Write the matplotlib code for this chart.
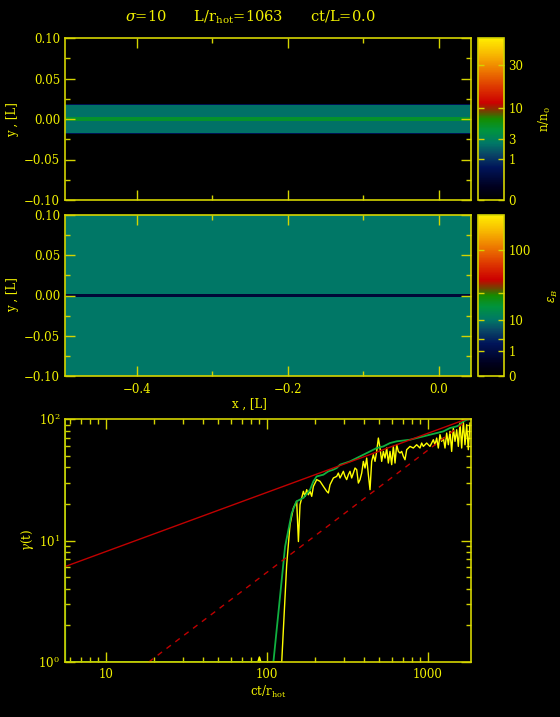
import numpy as np
import matplotlib
matplotlib.use('Agg')
import matplotlib.pyplot as plt
from matplotlib.colors import LinearSegmentedColormap, PowerNorm
from matplotlib.ticker import FixedLocator, NullFormatter

# ---- data ----
# top panel: density profile across the sheet (y edges, n/n0 in each layer)
dens_y = [-0.1, -0.0185, -0.0172, -0.0025, 0.0025, 0.0172, 0.0185, 0.1]
dens_n = [0.0, 0.4, 2.3, 5.2, 2.3, 0.4, 0.0]
# middle panel: energy profile
eps_y = [-0.1, -0.0013, 0.0013, 0.1]
eps_v = [10.0, 0.6, 10.0]
x_edges = [-0.495, 0.043]

dens_ticks = [0, 1, 3, 10, 30]
eps_ticks = [0, 1, 3, 10, 30, 100]
eps_labels = ['0', '1', '', '10', '', '100']

# bottom panel: gamma(t)
yel_t = [5.58, 5.6, 88, 90, 92, 123.9, 133.0, 139.5, 146.4, 153.5, 157.3, 161.0, 164.9, 168.9, 172.9,
         177.1, 181.4, 185.8, 190.3, 194.9, 204.4, 214.4, 224.8, 235.8, 241.5, 247.3,
         253.3, 259.4, 272.0, 278.6, 285.3, 292.2, 299.2, 306.4, 313.8, 321.4, 329.1,
         337.1, 345.2, 353.6, 362.1, 370.9, 379.8, 389.0, 398.3, 408.0, 417.8, 427.9,
         438.2, 448.7, 459.5, 470.7, 482.0, 493.7, 505.5, 517.8, 530.2, 543.1, 556.2,
         569.6, 583.3, 597.4, 611.7, 626.6, 641.6, 657.2, 673.0, 689.2, 705.9, 722.8,
         740.3, 776.4, 814.3, 854.0, 895.7, 917.2, 939.6, 985.4, 1033, 1084, 1110,
         1137, 1164, 1192, 1221, 1251, 1281, 1312, 1344, 1376, 1409, 1443, 1478, 1514,
         1550, 1588, 1626, 1665, 1705, 1746, 1788, 1831]
yel_g = [100, 1.0, 1.0, 1.1, 1.0, 1.0, 6.3, 13.5, 18.5, 21.0, 9.8, 19.7, 22.4, 25.4, 23.1,
         26.2, 23.8, 25.4, 23.1, 27.9, 31.7, 30.7, 27.9, 25.4, 24.6, 28.8,
         30.7, 32.7, 33.7, 35.9, 32.7, 34.8, 37.1, 33.7, 31.7, 34.8, 37.1,
         32.7, 35.9, 39.5, 38.3, 29.7, 31.7, 35.9, 44.8, 39.5, 47.7, 34.8,
         26.2, 44.8, 50.8, 44.8, 54.1, 69.7, 57.7, 44.8, 54.1, 47.7, 57.7,
         43.4, 54.1, 42.1, 59.5, 43.4, 61.4, 54.1, 52.5, 54.1, 49.3, 46.2,
         55.9, 59.5, 57.7, 61.4, 57.7, 63.4, 59.5, 63.4, 59.5, 67.5, 61.4,
         69.7, 57.7, 74.3, 65.5, 69.7, 57.7, 76.6, 61.4, 79.1, 54.1, 84.3, 65.5, 81.6,
         59.5, 92.6, 57.7, 95.6, 61.4, 89.8, 55.9, 92.6]

grn_t = [5.58, 5.6, 110, 118, 130, 143, 153, 168.9, 185.8, 194.9, 204.4, 224.8, 241.5,
         259.4, 272.0, 285.3, 306.4, 329.1, 362.1, 398.3, 438.2, 482.0, 530.2, 583.3,
         641.6, 705.9, 776.4, 854.0, 939.6, 1033, 1137, 1251, 1376, 1514, 1588, 1665,
         1746, 1831]
grn_g = [100, 1.0, 1.0, 2.5, 8.9, 16.8, 21.0, 22.4, 26.2, 30.7, 33.7, 34.8, 37.1,
         38.3, 39.5, 42.1, 43.4, 44.8, 47.7, 50.8, 54.1, 57.7, 59.5, 63.4,
         65.5, 66.5, 67.5, 69.7, 71.9, 74.3, 76.6, 79.1, 84.3, 87.0, 89.8, 95.6,
         98.5, 100]

red_t = [5.58, 1858]
red_g = [6.1, 103]
dash_t = [18.5, 1858]
dash_g = [1.0, 103]

# ---- style ----
YEL = '#f2f200'
FRAME = '#d4d400'
plt.rcParams['font.family'] = ['DejaVu Serif']
plt.rcParams['font.size'] = 8.5
plt.rcParams['mathtext.fontset'] = 'dejavuserif'

cmap = LinearSegmentedColormap.from_list('idl', [
    (0.00, (0, 0, 0)),
    (0.08, (0, 0, 0.12)),
    (0.20, (0, 0.08, 0.35)),
    (0.28, (0.04, 0.27, 0.40)),
    (0.35, (0, 0.47, 0.40)),
    (0.43, (0, 0.58, 0.24)),
    (0.50, (0.08, 0.55, 0)),
    (0.55, (0.47, 0.24, 0)),
    (0.60, (0.80, 0, 0)),
    (0.70, (0.87, 0.22, 0)),
    (0.80, (0.93, 0.47, 0)),
    (0.90, (0.97, 0.72, 0)),
    (1.00, (1.0, 0.93, 0)),
])

fig = plt.figure(figsize=(5.6, 7.17), dpi=100, facecolor='black')
W, H = 560.0, 717.0


def box(l, t, r, b):
    return [l / W, 1 - b / H, (r - l) / W, (b - t) / H]


def style(ax):
    ax.set_facecolor('black')
    for s in ax.spines.values():
        s.set_color(FRAME)
        s.set_linewidth(1.2)
    ax.tick_params(which='both', direction='in', colors=FRAME, labelcolor=YEL,
                   top=True, right=True, bottom=True, left=True)
    ax.tick_params(which='major', length=7, width=1)
    ax.tick_params(which='minor', length=3.5, width=1)


ax1 = fig.add_axes(box(65, 38, 471, 200))
ax2 = fig.add_axes(box(65, 215, 471, 376))
cax1 = fig.add_axes(box(478, 38, 504, 200))
cax2 = fig.add_axes(box(478, 215, 504, 376))
ax3 = fig.add_axes(box(65, 419, 471, 662))

norm1 = PowerNorm(0.35, vmin=0, vmax=50)
norm2 = PowerNorm(0.35, vmin=0, vmax=200)
m1 = ax1.pcolormesh(x_edges, dens_y, np.array(dens_n)[:, None], cmap=cmap, norm=norm1)
m2 = ax2.pcolormesh(x_edges, eps_y, np.array(eps_v)[:, None], cmap=cmap, norm=norm2)

for ax in (ax1, ax2):
    style(ax)
    ax.set_xlim(x_edges)
    ax.set_ylim(-0.1, 0.1)
    ax.set_yticks([-0.10, -0.05, 0.0, 0.05, 0.10])
    ax.set_yticklabels(['\u22120.10', '\u22120.05', '0.00', '0.05', '0.10'])
    ax.yaxis.set_minor_locator(FixedLocator([-0.075, -0.025, 0.025, 0.075]))
    ax.set_xticks([-0.4, -0.2, 0.0])
    ax.xaxis.set_minor_locator(FixedLocator([-0.3, -0.1]))
ax1.set_xticklabels([])
ax2.set_xticklabels(['\u22120.4', '\u22120.2', '0.0'])
ax2.tick_params(axis='x', pad=5)

cb1 = fig.colorbar(m1, cax=cax1, ticks=dens_ticks)
cb2 = fig.colorbar(m2, cax=cax2, ticks=eps_ticks)
cb2.ax.set_yticklabels(eps_labels)
for cb in (cb1, cb2):
    cb.outline.set_edgecolor(FRAME)
    cb.outline.set_linewidth(1.2)
    cb.ax.tick_params(which='both', direction='in', colors=FRAME, labelcolor=YEL,
                      left=True, right=True, length=4, width=1, pad=3)
    cb.ax.minorticks_off()
cb1.set_label('n/n$_0$', color=YEL, labelpad=10)
cb2.set_label('$\\epsilon_B$', color=YEL, labelpad=12)

# bottom panel
style(ax3)
ax3.plot(yel_t, yel_g, color='#ffff00', lw=1.0)
ax3.plot(grn_t, grn_g, color='#10b040', lw=1.3)
ax3.plot(red_t, red_g, color='#c00000', lw=1.0)
ax3.plot(dash_t, dash_g, color='#c00000', lw=1.0, ls=(0, (4, 4)))
ax3.set_xscale('log')
ax3.set_yscale('log')
ax3.set_xlim(5.58, 1858)
ax3.set_ylim(1, 100)
ax3.set_xticks([10, 100, 1000])
ax3.set_xticklabels(['10', '100', '1000'])
ax3.xaxis.set_minor_formatter(NullFormatter())
ax3.yaxis.set_minor_formatter(NullFormatter())
ax3.tick_params(axis='x', pad=4)

# texts
fig.text(250 / W, 1 - 17 / H, '$\\sigma$=10      L/r$_{\\rm hot}$=1063      ct/L=0.0',
         color=YEL, fontsize=10.5, ha='center', va='center')
fig.text(13 / W, 1 - 120 / H, 'y , [L]', color=YEL, rotation=90, ha='center', va='center')
fig.text(13 / W, 1 - 295 / H, 'y , [L]', color=YEL, rotation=90, ha='center', va='center')
fig.text(249 / W, 1 - 404 / H, 'x , [L]', color=YEL, ha='center', va='center')
fig.text(28 / W, 1 - 540 / H, '$\\gamma$(t)', color=YEL, rotation=90, ha='center', va='center')
fig.text(268 / W, 1 - 692 / H, 'ct/r$_{\\rm hot}$', color=YEL, ha='center', va='center')

fig.savefig('out.png', dpi=100, facecolor='black')
